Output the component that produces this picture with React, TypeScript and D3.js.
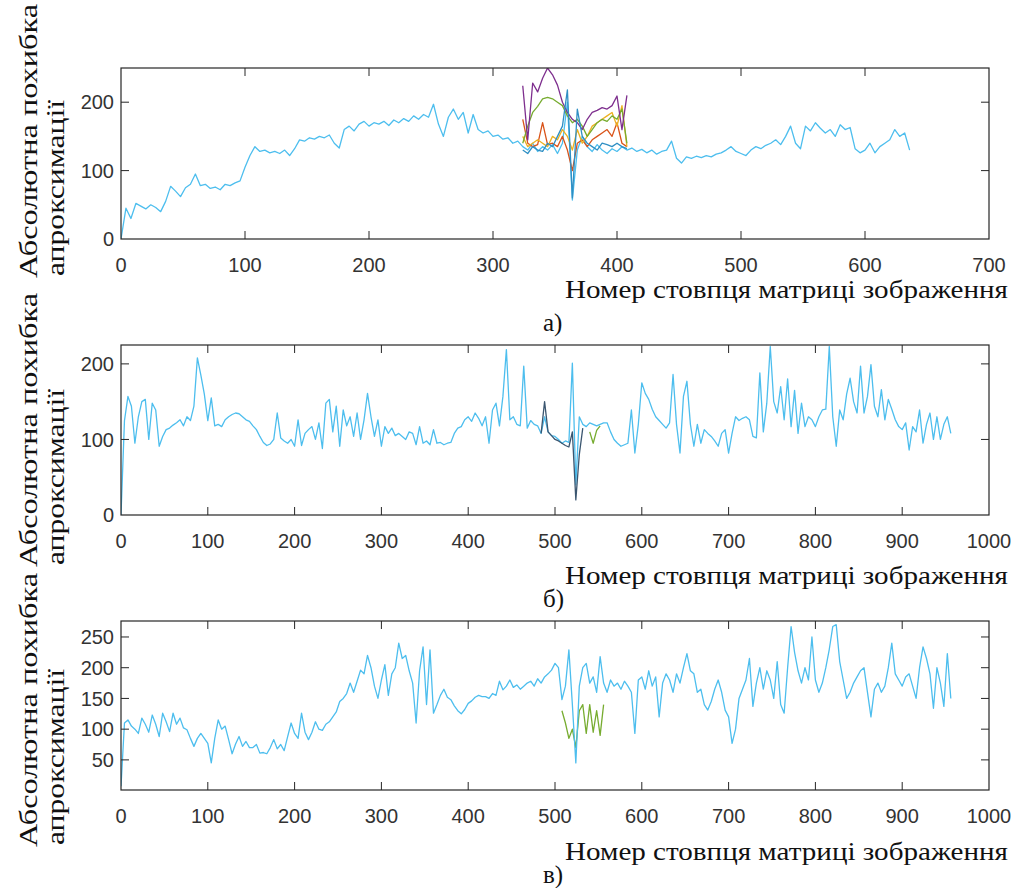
import React, { useEffect, useRef } from 'react';
import * as d3 from 'd3';

// values read every 4th column of the image matrix
const STEP = 4;

// panel а) — main curve, columns 0..636
const errA = [
  0, 45, 30, 52, 48, 44, 50, 46, 40, 55, 77, 70, 62, 75, 80, 95, 78, 80, 74, 76,
  72, 80, 78, 82, 85, 105, 122, 135, 128, 130, 126, 128, 125, 130, 122, 132, 145, 143, 148, 146,
  150, 148, 152, 140, 133, 160, 165, 158, 168, 172, 165, 170, 168, 172, 166, 174, 170, 176, 172, 180,
  175, 182, 178, 197, 168, 150, 178, 190, 175, 185, 155, 182, 160, 155, 158, 150, 152, 146, 148, 140,
  143, 135, 130, 140, 128, 135, 130, 138, 125, 140, 200, 57, 130, 150, 135, 128, 138, 130, 125, 132,
  128, 135, 130, 133, 128, 131, 126, 130, 124, 128, 130, 143, 118, 111, 120, 118, 121, 119, 122, 120,
  124, 126, 130, 135, 128, 125, 122, 130, 135, 132, 137, 140, 145, 138, 150, 165, 140, 132, 165, 158,
  170, 162, 155, 160, 150, 167, 160, 163, 132, 126, 130, 140, 126, 135, 140, 145, 160, 150, 155, 130,
];

// panel а) — the other curves, columns 324..408
const overlayStartA = 324;
const purpleA = [224, 145, 228, 215, 235, 250, 240, 225, 200, 185, 175, 170, 160, 175, 185, 188, 192, 190, 195, 209, 160, 210];
const oliveA = [140, 165, 185, 194, 205, 207, 205, 200, 195, 180, 170, 175, 165, 150, 160, 170, 175, 172, 180, 175, 190, 140];
const yellowA = [150, 135, 140, 145, 140, 135, 150, 145, 160, 150, 130, 160, 140, 150, 165, 170, 175, 180, 185, 165, 195, 135];
const orangeA = [175, 140, 135, 138, 170, 138, 140, 135, 150, 130, 100, 140, 145, 135, 145, 150, 155, 160, 150, 170, 140, 135];
const blueA = [130, 125, 135, 130, 128, 140, 135, 150, 165, 218, 60, 190, 150, 140, 135, 130, 140, 138, 135, 140, 135, 132];

// panel б) — main curve, columns 0..956
const errB = [
  0, 125, 157, 144, 95, 130, 150, 153, 100, 148, 139, 91, 104, 113, 115, 119, 122, 126, 118, 130,
  125, 144, 208, 185, 160, 125, 155, 118, 120, 117, 126, 130, 133, 135, 134, 130, 126, 124, 118, 113,
  104, 96, 92, 94, 100, 135, 102, 98, 95, 100, 91, 126, 92, 108, 113, 117, 100, 122, 88, 148,
  153, 110, 144, 91, 139, 118, 130, 104, 135, 100, 126, 161, 130, 104, 126, 91, 117, 108, 115, 105,
  108, 104, 100, 110, 108, 93, 117, 95, 98, 93, 113, 95, 96, 93, 95, 96, 108, 115, 117, 126,
  130, 124, 135, 128, 118, 130, 95, 139, 148, 118, 157, 219, 126, 130, 120, 118, 197, 115, 125, 120,
  118, 108, 130, 110, 105, 104, 100, 95, 98, 96, 201, 40, 130, 120, 117, 122, 120, 118, 120, 122,
  122, 110, 100, 95, 91, 93, 95, 139, 82, 120, 175, 161, 153, 140, 130, 125, 120, 115, 122, 186,
  120, 82, 157, 177, 120, 91, 120, 95, 113, 108, 104, 98, 91, 108, 113, 82, 108, 130, 125, 128,
  130, 126, 104, 102, 188, 110, 148, 223, 150, 135, 170, 126, 180, 117, 165, 108, 148, 117, 130, 126,
  117, 130, 139, 140, 223, 130, 91, 139, 126, 160, 181, 150, 135, 197, 135, 157, 199, 144, 130, 166,
  126, 153, 140, 126, 117, 113, 122, 86, 117, 110, 139, 95, 120, 135, 100, 130, 100, 120, 130, 108,
];

// panel б) — other curves
const darkStartB = 484;
const darkB = [108, 150, 110, 105, 100, 98, 95, 92, 90, 110, 20, 80, 115];
const oliveStartB = 540;
const oliveB = [110, 95, 112, 118];

// panel в) — main curve, columns 0..956
const errC = [
  7, 110, 115, 105, 100, 93, 118, 108, 95, 123, 108, 88, 126, 112, 96, 126, 108, 118, 102, 99,
  85, 72, 85, 93, 85, 77, 45, 85, 115, 100, 105, 83, 60, 76, 88, 72, 80, 70, 70, 75,
  61, 62, 60, 70, 83, 68, 75, 65, 88, 110, 93, 85, 126, 95, 83, 95, 112, 100, 98, 108,
  112, 120, 128, 145, 150, 158, 175, 160, 178, 196, 190, 220, 200, 170, 150, 180, 205, 155, 190, 200,
  240, 215, 220, 195, 175, 110, 195, 234, 140, 229, 126, 140, 155, 165, 152, 148, 138, 130, 125, 132,
  142, 146, 152, 155, 153, 153, 150, 158, 155, 178, 164, 170, 180, 168, 172, 165, 170, 175, 178, 170,
  182, 175, 185, 190, 196, 207, 200, 148, 170, 229, 140, 45, 170, 200, 207, 175, 185, 160, 218, 175,
  160, 180, 170, 175, 165, 178, 170, 160, 93, 180, 185, 165, 195, 170, 185, 120, 175, 190, 180, 160,
  190, 175, 200, 223, 195, 190, 160, 165, 140, 131, 145, 165, 180, 160, 131, 120, 77, 100, 150, 165,
  180, 215, 137, 175, 200, 165, 195, 180, 150, 210, 140, 126, 200, 267, 225, 195, 175, 200, 180, 250,
  180, 160, 175, 200, 230, 267, 270, 210, 180, 150, 160, 175, 185, 195, 200, 160, 120, 165, 175, 160,
  170, 200, 240, 190, 180, 170, 185, 190, 170, 150, 200, 234, 215, 190, 134, 200, 175, 137, 223, 150,
];

// panel в) — other curve
const oliveStartC = 508;
const oliveC = [130, 110, 85, 100, 70, 130, 140, 93, 140, 95, 130, 90, 140];

const xTicksA = [0, 100, 200, 300, 400, 500, 600, 700];
const xTicksBC = [0, 100, 200, 300, 400, 500, 600, 700, 800, 900, 1000];
const yTicksA = [0, 100, 200];
const yTicksB = [0, 100, 200];
const yTicksC = [50, 100, 150, 200, 250];

const xLabel = 'Номер стовпця матриці зображення';
const yLabel1 = 'Абсолютна похибка';
const yLabel2 = 'апроксимації';

const CYAN = '#4DBEEE';

const App = () => {
  const svgRef = useRef(null);

  useEffect(() => {
    const svg = d3.select(svgRef.current);
    svg.selectAll('*').remove();

    const left = 121;
    const right = 989;

    const panels = [
      {
        id: 'a', top: 68, bottom: 239, xMax: 700, yDomain: [0, 250],
        xTicks: xTicksA, yTicks: yTicksA, tickBase: 272, labelBase: 298, tagBase: 331,
        yLabelStart: 278, tag: 'а)',
        under: [],
        main: { start: 0, values: errA, color: CYAN },
        over: [
          { start: overlayStartA, values: orangeA, color: '#D95319' },
          { start: overlayStartA, values: yellowA, color: '#EDB120' },
          { start: overlayStartA, values: oliveA, color: '#77AC30' },
          { start: overlayStartA, values: purpleA, color: '#7E2F8E' },
          { start: overlayStartA, values: blueA, color: '#2f8fc4' },
        ],
      },
      {
        id: 'b', top: 345, bottom: 515, xMax: 1000, yDomain: [0, 225],
        xTicks: xTicksBC, yTicks: yTicksB, tickBase: 548, labelBase: 584, tagBase: 607,
        yLabelStart: 567, tag: 'б)',
        under: [{ start: oliveStartB, values: oliveB, color: '#77AC30' }],
        main: { start: 0, values: errB, color: CYAN },
        over: [{ start: darkStartB, values: darkB, color: '#3b5670' }],
      },
      {
        id: 'c', top: 621, bottom: 790, xMax: 1000, yDomain: [1, 276],
        xTicks: xTicksBC, yTicks: yTicksC, tickBase: 823, labelBase: 860, tagBase: 883,
        yLabelStart: 847, tag: 'в)',
        under: [{ start: oliveStartC, values: oliveC, color: '#77AC30' }],
        main: { start: 0, values: errC, color: CYAN },
        over: [],
      },
    ];

    panels.forEach(p => {
      const x = d3.scaleLinear().domain([0, p.xMax]).range([left, right]);
      const y = d3.scaleLinear().domain(p.yDomain).range([p.bottom, p.top]);
      const g = svg.append('g');

      g.append('clipPath').attr('id', 'clip-' + p.id)
        .append('rect')
        .attr('x', left).attr('y', p.top)
        .attr('width', right - left).attr('height', p.bottom - p.top);

      const line = (start) => d3.line()
        .x((d, i) => x(start + i * STEP))
        .y(d => y(d));

      const plot = g.append('g').attr('clip-path', `url(#clip-${p.id})`);
      const drawSeries = s => {
        plot.append('path')
          .datum(s.values)
          .attr('d', line(s.start))
          .attr('fill', 'none')
          .attr('stroke', s.color)
          .attr('stroke-width', 1.3)
          .attr('stroke-linejoin', 'round');
      };
      p.under.forEach(drawSeries);
      drawSeries(p.main);
      p.over.forEach(drawSeries);

      // box
      g.append('rect')
        .attr('x', left).attr('y', p.top)
        .attr('width', right - left).attr('height', p.bottom - p.top)
        .attr('fill', 'none').attr('stroke', '#262626').attr('stroke-width', 1.2);

      // inward ticks on all four sides
      const tickLen = 8;
      p.xTicks.forEach(t => {
        if (t === 0 || t === p.xMax) return;
        g.append('line').attr('x1', x(t)).attr('x2', x(t))
          .attr('y1', p.bottom).attr('y2', p.bottom - tickLen)
          .attr('stroke', '#262626');
        g.append('line').attr('x1', x(t)).attr('x2', x(t))
          .attr('y1', p.top).attr('y2', p.top + tickLen)
          .attr('stroke', '#262626');
      });
      p.yTicks.forEach(t => {
        if (t === p.yDomain[0]) return;
        g.append('line').attr('x1', left).attr('x2', left + tickLen)
          .attr('y1', y(t)).attr('y2', y(t)).attr('stroke', '#262626');
        g.append('line').attr('x1', right).attr('x2', right - tickLen)
          .attr('y1', y(t)).attr('y2', y(t)).attr('stroke', '#262626');
      });

      const tickFont = '"Liberation Sans", Arial, sans-serif';
      g.selectAll('.xt').data(p.xTicks).enter().append('text')
        .attr('x', d => x(d)).attr('y', p.tickBase)
        .attr('text-anchor', 'middle')
        .attr('font-family', tickFont).attr('font-size', 20)
        .attr('fill', '#333')
        .text(d => d);
      g.selectAll('.yt').data(p.yTicks).enter().append('text')
        .attr('x', left - 7).attr('y', d => y(d))
        .attr('dy', '0.36em')
        .attr('text-anchor', 'end')
        .attr('font-family', tickFont).attr('font-size', 20)
        .attr('fill', '#333')
        .text(d => d);

      const serif = '"Liberation Serif", "Times New Roman", serif';
      g.append('text')
        .attr('x', 1008).attr('y', p.labelBase)
        .attr('text-anchor', 'end')
        .attr('font-family', serif).attr('font-size', 25)
        .attr('textLength', 443).attr('lengthAdjust', 'spacingAndGlyphs')
        .attr('fill', '#111')
        .text(xLabel);
      g.append('text')
        .attr('x', 543).attr('y', p.tagBase)
        .attr('font-family', serif).attr('font-size', 25)
        .attr('fill', '#111')
        .text(p.tag);

      g.append('text')
        .attr('transform', `translate(37,${p.yLabelStart}) rotate(-90)`)
        .attr('font-family', serif).attr('font-size', 26)
        .attr('textLength', 274).attr('lengthAdjust', 'spacingAndGlyphs')
        .attr('fill', '#111')
        .text(yLabel1);
      g.append('text')
        .attr('transform', `translate(64,${p.yLabelStart - 2}) rotate(-90)`)
        .attr('font-family', serif).attr('font-size', 26)
        .attr('textLength', 176).attr('lengthAdjust', 'spacingAndGlyphs')
        .attr('fill', '#111')
        .text(yLabel2);
    });
  }, []);

  return (
    <svg
      ref={svgRef}
      width={1020}
      height={888}
      style={{ position: 'absolute', left: 0, top: 0, background: '#fff' }}
    />
  );
};

export default App;
